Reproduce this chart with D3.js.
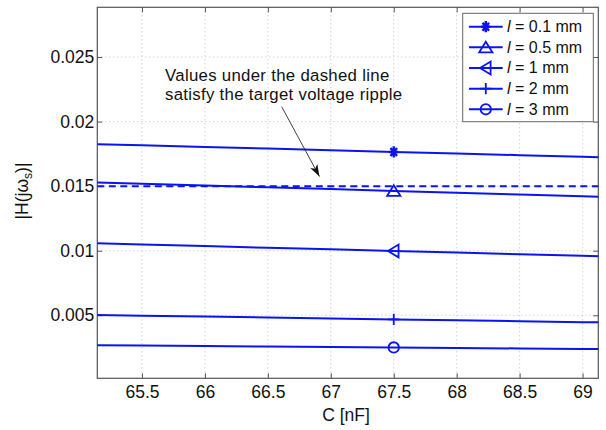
<!DOCTYPE html>
<html>
<head>
<meta charset="utf-8">
<script src="https://cdn.jsdelivr.net/npm/d3@7"></script>
<style>
  html, body { margin: 0; padding: 0; background: #fff; }
  svg { display: block; font-family: "Liberation Sans", Arial, Helvetica, sans-serif; }
</style>
</head>
<body>
<svg id="chart" width="606" height="430"></svg>
<script>
// Capacitance samples (nF)
const capacitance = [65, 65.5, 66, 66.5, 67, 67.5, 68, 68.5, 69, 69.5];

// |H(j omega_s)| for each interconnect length
const seriesLabels = ["0.1 mm", "0.5 mm", "1 mm", "2 mm", "3 mm"];
const seriesMarkers = ["star", "triUp", "triLeft", "plus", "circle"];
const h_l01 = [0.01829, 0.01816, 0.01803, 0.01791, 0.01778, 0.01765, 0.01752, 0.01740, 0.01727, 0.01714];
const h_l05 = [0.01533, 0.01519, 0.01505, 0.01491, 0.01477, 0.01463, 0.01449, 0.01435, 0.01421, 0.01407];
const h_l1  = [0.01061, 0.01048, 0.01036, 0.01023, 0.01011, 0.00998, 0.00986, 0.00973, 0.00961, 0.00948];
const h_l2  = [0.00504, 0.00497, 0.00490, 0.00483, 0.00475, 0.00468, 0.00461, 0.00454, 0.00447, 0.00440];
const h_l3  = [0.00270, 0.00266, 0.00262, 0.00258, 0.00255, 0.00251, 0.00247, 0.00243, 0.00239, 0.00235];
const seriesValues = [h_l01, h_l05, h_l1, h_l2, h_l3];

// Marker is placed at this capacitance on every curve
const markerC = 67.5;

// Target ripple threshold (dashed line)
const rippleLimit = 0.015;

// Axis ranges and ticks
const xDomain = [65.145, 69.125];
const yDomain = [0.00012, 0.02885];
const xTicks = [65.5, 66, 66.5, 67, 67.5, 68, 68.5, 69];
const yTicks = [0.005, 0.01, 0.015, 0.02, 0.025];
const xTickLabels = ["65.5", "66", "66.5", "67", "67.5", "68", "68.5", "69"];
const yTickLabels = ["0.005", "0.01", "0.015", "0.02", "0.025"];

// Annotation text and where its arrow points (C in nF, offset above the threshold)
const annotationLines = ["Values under the dashed line", "satisfy the target voltage ripple"];
const arrowTipC = 66.91;

const blue = "#0a14f0";
const FS = "17.5px";
const svg = d3.select("#chart");
const plot = { left: 97.3, right: 598.3, top: 7.3, bottom: 378.3 };

const x = d3.scaleLinear().domain(xDomain).range([plot.left, plot.right]);
const y = d3.scaleLinear().domain(yDomain).range([plot.bottom, plot.top]);

const defs = svg.append("defs");
defs.append("clipPath").attr("id", "plotClip")
  .append("rect")
  .attr("x", plot.left).attr("y", plot.top)
  .attr("width", plot.right - plot.left).attr("height", plot.bottom - plot.top);

defs.append("marker")
  .attr("id", "arrowHead")
  .attr("viewBox", "0 0 12 10")
  .attr("refX", 12).attr("refY", 5)
  .attr("markerWidth", 12).attr("markerHeight", 10)
  .attr("markerUnits", "userSpaceOnUse")
  .attr("orient", "auto")
  .append("path").attr("d", "M0,1 L12,5 L0,9 L3,5 Z").attr("fill", "#111");

// Dotted grid
const grid = svg.append("g");
grid.selectAll("line.gx").data(xTicks).join("line")
  .attr("x1", d => x(d)).attr("x2", d => x(d))
  .attr("y1", plot.top).attr("y2", plot.bottom)
  .attr("stroke", "#bdbdbd").attr("stroke-width", 1).attr("stroke-dasharray", "1,3");
grid.selectAll("line.gy").data(yTicks).join("line")
  .attr("x1", plot.left).attr("x2", plot.right)
  .attr("y1", d => y(d)).attr("y2", d => y(d))
  .attr("stroke", "#bdbdbd").attr("stroke-width", 1).attr("stroke-dasharray", "1,3");

// Axes (ticks pointing inward, labels outside)
const axisColor = "#555";
const xAxis = d3.axisBottom(x).tickValues(xTicks).tickSize(-5).tickPadding(7.3)
  .tickFormat((d, i) => xTickLabels[i]);
const yAxis = d3.axisLeft(y).tickValues(yTicks).tickSize(-5).tickPadding(3)
  .tickFormat((d, i) => yTickLabels[i]);
const xTop = d3.axisTop(x).tickValues(xTicks).tickSize(-5).tickFormat("");
const yRight = d3.axisRight(y).tickValues(yTicks).tickSize(-5).tickFormat("");

function styleAxis(g) {
  g.select(".domain").remove();
  g.selectAll(".tick line").attr("stroke", axisColor).attr("stroke-width", 1);
  g.selectAll(".tick text").attr("fill", "#111").style("font-size", FS)
    .style("font-family", '"Liberation Sans", Arial, sans-serif');
}
svg.append("g").attr("transform", `translate(0,${plot.bottom})`).call(xAxis).call(styleAxis);
svg.append("g").attr("transform", `translate(${plot.left},0)`).call(yAxis).call(styleAxis);
svg.append("g").attr("transform", `translate(0,${plot.top})`).call(xTop).call(styleAxis);
svg.append("g").attr("transform", `translate(${plot.right},0)`).call(yRight).call(styleAxis);

svg.append("rect")
  .attr("x", plot.left).attr("y", plot.top)
  .attr("width", plot.right - plot.left).attr("height", plot.bottom - plot.top)
  .attr("fill", "none").attr("stroke", axisColor).attr("stroke-width", 1.2);

// Curves
const lineGen = d3.line().x((d, i) => x(capacitance[i])).y(d => y(d));
const curves = svg.append("g").attr("clip-path", "url(#plotClip)");
curves.selectAll("path.curve").data(seriesValues).join("path")
  .attr("class", "curve")
  .attr("d", d => lineGen(d))
  .attr("fill", "none").attr("stroke", blue).attr("stroke-width", 2);

// Ripple threshold
curves.append("line")
  .attr("x1", x(xDomain[0])).attr("x2", x(xDomain[1]))
  .attr("y1", y(rippleLimit)).attr("y2", y(rippleLimit))
  .attr("stroke", blue).attr("stroke-width", 2).attr("stroke-dasharray", "7,4.5");

// Marker shapes
function drawMarker(g, kind, cx, cy) {
  const sw = 1.8;
  const base = sel => sel.attr("stroke", blue).attr("stroke-width", sw).attr("fill", "none");
  if (kind === "star") {
    const rx = 4.6, ry = 5.6, p = [];
    [0, 45, 90, 135].forEach(a => {
      const t = a * Math.PI / 180;
      p.push(`M${cx - rx * Math.cos(t)},${cy - ry * Math.sin(t)}L${cx + rx * Math.cos(t)},${cy + ry * Math.sin(t)}`);
    });
    base(g.append("path").attr("d", p.join(""))).attr("stroke-width", 2.4);
  } else if (kind === "triUp") {
    const r = 6.6;
    base(g.append("path").attr("d", `M${cx},${cy - r * 0.85}L${cx + r},${cy + r * 0.75}L${cx - r},${cy + r * 0.75}Z`));
  } else if (kind === "triLeft") {
    const r = 6.4;
    base(g.append("path").attr("d", `M${cx - r * 0.9},${cy}L${cx + r * 0.75},${cy - r}L${cx + r * 0.75},${cy + r}Z`));
  } else if (kind === "plus") {
    const r = 5.6;
    base(g.append("path").attr("d", `M${cx - r},${cy}L${cx + r},${cy}M${cx},${cy - r}L${cx},${cy + r}`));
  } else if (kind === "circle") {
    base(g.append("circle").attr("cx", cx).attr("cy", cy).attr("r", 5.2));
  }
}

const markerIndex = capacitance.indexOf(markerC);
const markerLayer = svg.append("g");
seriesValues.forEach((vals, i) => {
  drawMarker(markerLayer, seriesMarkers[i], x(markerC), y(vals[markerIndex]));
});

// Annotation (two lines) with arrow
annotationLines.forEach((t, i) => {
  svg.append("text")
    .attr("x", 165).attr("y", 81 + i * 19)
    .style("font-size", "16.8px").style("letter-spacing", "0.3px")
    .attr("fill", "#111").text(t);
});
svg.append("line")
  .attr("x1", 281.7).attr("y1", 106.7)
  .attr("x2", x(arrowTipC)).attr("y2", y(rippleLimit) - 9.6)
  .attr("stroke", "#111").attr("stroke-width", 0.8)
  .attr("marker-end", "url(#arrowHead)");

// Axis titles
svg.append("text")
  .attr("x", 346).attr("y", 421)
  .attr("text-anchor", "middle").style("font-size", FS).attr("fill", "#111")
  .text("C [nF]");

const yTitle = svg.append("text")
  .attr("transform", "translate(28,191) rotate(-90)")
  .attr("text-anchor", "middle").style("font-size", FS).attr("fill", "#111");
yTitle.append("tspan").text("|H(jω");
yTitle.append("tspan").attr("dy", 4).style("font-size", "12px").text("s");
yTitle.append("tspan").attr("dy", -4).text(")|");

// Legend
const legend = svg.append("g");
legend.append("rect")
  .attr("x", 462.7).attr("y", 13.3).attr("width", 130.6).attr("height", 108.4)
  .attr("fill", "#fff").attr("stroke", "#666").attr("stroke-width", 1);
seriesLabels.forEach((lab, i) => {
  const ly = 26.7 + i * 20.65;
  legend.append("line")
    .attr("x1", 469).attr("x2", 502.7).attr("y1", ly).attr("y2", ly)
    .attr("stroke", blue).attr("stroke-width", 2);
  drawMarker(legend, seriesMarkers[i], 485.8, ly);
  const t = legend.append("text").attr("x", 507).attr("y", ly + 5.2)
    .style("font-size", "16px").attr("fill", "#111");
  t.append("tspan").style("font-style", "italic").text("l");
  t.append("tspan").text(" = " + lab);
});
</script>
</body>
</html>
